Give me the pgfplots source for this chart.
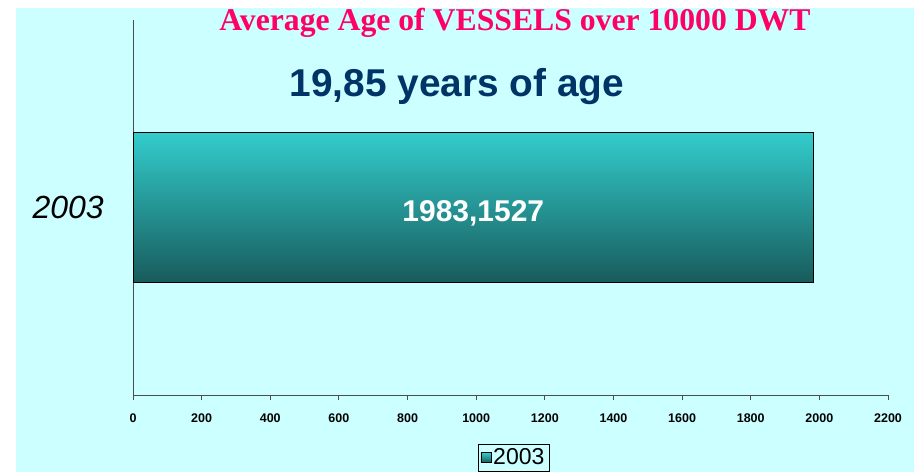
\documentclass[border=0pt]{standalone}
\usepackage{fontspec}
\setmainfont{Liberation Sans}
\newfontfamily\timesfont{Liberation Serif}
\usepackage{pgfplots}
\pgfplotsset{compat=1.18}
\definecolor{bgcyan}{HTML}{CCFFFF}
\definecolor{bartop}{HTML}{33CCCC}
\definecolor{barbot}{HTML}{185B5B}
\definecolor{titlepink}{HTML}{FF0066}
\definecolor{navy}{HTML}{003366}
\begin{document}
\begin{tikzpicture}
\path[use as bounding box] (0,0) rectangle (914bp,472bp);
\fill[bgcyan] (16bp,0) rectangle (914bp,464bp);
\node[text=titlepink, font=\timesfont\bfseries\fontsize{31.7bp}{34bp}\selectfont, inner sep=0] at (515bp,449bp) {Average Age of VESSELS over 10000 DWT};
\node[text=navy, font=\bfseries\fontsize{38.8bp}{42bp}\selectfont, inner sep=0] at (457bp,385bp) {19,85 years of age};
\begin{axis}[
  at={(133bp,77bp)}, anchor=south west,
  scale only axis, width=755bp, height=375bp,
  xbar, bar width=150bp,
  xmin=0, xmax=2200, ymin=-1, ymax=1,
  axis x line*=bottom, axis y line*=left,
  axis line style={black!70, line width=1pt},
  xtick={0,200,...,2200},
  /pgf/number format/1000 sep={},
  /pgf/number format/assume math mode=true,
  tick align=outside,
  major tick length=5bp,
  tick style={black!70, line width=1pt},
  xticklabel style={font=\bfseries\fontsize{12.5bp}{14bp}\selectfont, inner sep=0, yshift=-14bp},
  ytick={0}, yticklabels={2003},
  ytick style={draw=none},
  yticklabel style={font=\itshape\fontsize{32bp}{36bp}\selectfont, inner sep=0, xshift=-24bp},
  legend style={at={(0.504,-0.1307)}, anchor=north, draw=black, fill=none,
    font=\fontsize{23bp}{25bp}\selectfont, inner sep=2.5bp, row sep=0pt},
  legend image code/.code={\draw[#1, line width=0.6pt] (0bp,-5bp) rectangle (10bp,5bp);},
]
\addplot[draw=black, line width=0.6pt, top color=bartop, bottom color=barbot] coordinates {(1983.1527,0)};
\addlegendentry{2003}
\node[text=white, font=\bfseries\fontsize{30bp}{32bp}\selectfont, inner sep=0] at (axis cs:991.6,-0.03) {1983,1527};
\end{axis}
\end{tikzpicture}
\end{document}
